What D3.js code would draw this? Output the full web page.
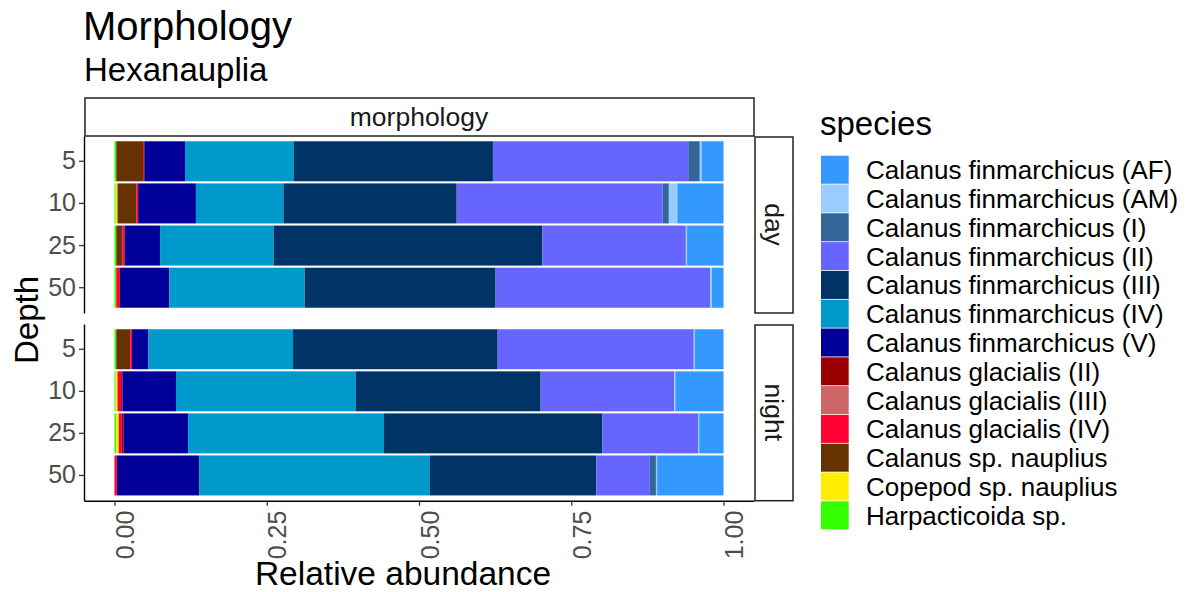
<!DOCTYPE html>
<html>
<head>
<meta charset="utf-8">
<script src="https://cdn.jsdelivr.net/npm/d3@7"></script>
<style>
  body { margin: 0; background: #fff; }
  svg text { font-family: "Liberation Sans", Arial, sans-serif; }
</style>
</head>
<body>
<svg id="chart" width="1195" height="592"></svg>
<script>

// legend order (top to bottom); bars stack in the reverse order, left to right
var species = [
  "Calanus finmarchicus (AF)",
  "Calanus finmarchicus (AM)",
  "Calanus finmarchicus (I)",
  "Calanus finmarchicus (II)",
  "Calanus finmarchicus (III)",
  "Calanus finmarchicus (IV)",
  "Calanus finmarchicus (V)",
  "Calanus glacialis (II)",
  "Calanus glacialis (III)",
  "Calanus glacialis (IV)",
  "Calanus sp. nauplius",
  "Copepod sp. nauplius",
  "Harpacticoida sp."
];

var speciesColors = [
  "#3399FF", "#99CCFF", "#336699", "#6666FF", "#003366", "#0099CC", "#000099",
  "#990000", "#CC6666", "#FF0033", "#663300", "#FFEE00", "#33FF00"
];

var depths = ["5", "10", "25", "50"];
var periods = ["day", "night"];
var xTicks = [0, 0.25, 0.5, 0.75, 1];

// relative abundance per depth, values in the same order as `species`
var dayAbundance = [
  [0.036, 0.003, 0.019, 0.321, 0.327, 0.179, 0.067, 0, 0, 0.002, 0.044, 0, 0.003],
  [0.076, 0.014, 0.010, 0.339, 0.285, 0.144, 0.095, 0, 0, 0.003, 0.031, 0.003, 0.002],
  [0.060, 0.002, 0, 0.236, 0.442, 0.187, 0.058, 0, 0, 0.004, 0.010, 0, 0.003],
  [0.019, 0.003, 0, 0.353, 0.314, 0.223, 0.081, 0, 0, 0.006, 0, 0, 0.003]
];

var nightAbundance = [
  [0.047, 0.002, 0, 0.323, 0.337, 0.238, 0.027, 0, 0, 0.003, 0.023, 0, 0.003],
  [0.079, 0.002, 0, 0.219, 0.303, 0.295, 0.088, 0.002, 0, 0.006, 0, 0.003, 0.002],
  [0.040, 0.002, 0, 0.157, 0.359, 0.322, 0.106, 0.003, 0, 0.005, 0, 0.004, 0.003],
  [0.109, 0.002, 0.010, 0.088, 0.273, 0.379, 0.135, 0, 0, 0.004, 0, 0, 0]
];

var abundance = { day: dayAbundance, night: nightAbundance };

var svg = d3.select("#chart");
var FONT_TICK = 25, FONT_STRIP = 26.5, FONT_LEGEND = 26, FONT_BASE = 33;

var panelLeft = 84, panelRight = 754;
var panels = [
  { period: "day",   top: 136, bottom: 313 },
  { period: "night", top: 324, bottom: 500.7 }
];

var x = d3.scaleLinear().domain([-0.05, 1.05]).range([panelLeft, panelRight]);
var color = d3.scaleOrdinal().domain(species).range(speciesColors);

// stack left to right: last legend entry first
var stack = d3.stack()
  .keys(species.slice().reverse())
  .offset(d3.stackOffsetExpand);

// titles
svg.append("text")
  .attr("x", 83).attr("y", 40)
  .attr("font-size", 40).attr("fill", "#000")
  .text("Morphology");

svg.append("text")
  .attr("x", 84).attr("y", 81)
  .attr("font-size", 33).attr("fill", "#000")
  .text("Hexanauplia");

// top strip
svg.append("rect")
  .attr("x", panelLeft + 1).attr("y", 98)
  .attr("width", panelRight - panelLeft - 1).attr("height", 38)
  .attr("fill", "#fff").attr("stroke", "#222").attr("stroke-width", 1.5);

svg.append("text")
  .attr("x", (panelLeft + panelRight) / 2).attr("y", 117)
  .attr("dy", "0.35em")
  .attr("text-anchor", "middle")
  .attr("font-size", FONT_STRIP).attr("fill", "#1A1A1A")
  .text("morphology");

panels.forEach(function(p) {

  var y = d3.scaleBand()
    .domain(depths)
    .range([p.top, p.bottom])
    .paddingInner(0.05)
    .paddingOuter(0.125);

  var rows = abundance[p.period].map(function(vals, i) {
    var row = { depth: depths[i] };
    species.forEach(function(s, j) { row[s] = vals[j]; });
    return row;
  });

  var g = svg.append("g").attr("class", "panel-" + p.period);

  g.selectAll("g.layer")
    .data(stack(rows))
    .join("g")
      .attr("class", "layer")
      .attr("fill", function(d) { return color(d.key); })
    .selectAll("rect")
    .data(function(d) { return d; })
    .join("rect")
      .attr("x", function(d) { return x(d[0]); })
      .attr("y", function(d) { return y(d.data.depth); })
      .attr("width", function(d) { return Math.max(0, x(d[1]) - x(d[0])); })
      .attr("height", y.bandwidth());

  // y axis
  var yAxis = svg.append("g")
    .attr("transform", "translate(" + panelLeft + ",0)")
    .call(d3.axisLeft(y).tickSize(5).tickSizeOuter(0).tickPadding(3));

  yAxis.select(".domain").attr("stroke", "#000").attr("stroke-width", 1.4);
  yAxis.selectAll(".tick line").attr("stroke", "#333").attr("stroke-width", 1.3);
  yAxis.selectAll(".tick text")
    .attr("font-size", FONT_TICK)
    .attr("font-family", "Liberation Sans, Arial, sans-serif")
    .attr("fill", "#4D4D4D");

  // right strip
  svg.append("rect")
    .attr("x", 755).attr("y", p.top + 1)
    .attr("width", 38).attr("height", p.bottom - p.top - 1)
    .attr("fill", "#fff").attr("stroke", "#222").attr("stroke-width", 1.5);

  var cy = (p.top + p.bottom) / 2;
  svg.append("text")
    .attr("transform", "translate(774," + cy + ") rotate(90)")
    .attr("dy", "0.35em")
    .attr("text-anchor", "middle")
    .attr("font-size", FONT_STRIP).attr("fill", "#1A1A1A")
    .text(p.period);

});

// x axis under the night panel
var axisY = panels[1].bottom;
var xAxis = svg.append("g")
  .attr("transform", "translate(0," + axisY + ")")
  .call(d3.axisBottom(x)
    .tickValues(xTicks)
    .tickFormat(d3.format(".2f"))
    .tickSize(5)
    .tickSizeOuter(0));

xAxis.select(".domain").attr("stroke", "#000").attr("stroke-width", 1.4);
xAxis.selectAll(".tick line").attr("stroke", "#333").attr("stroke-width", 1.3);
xAxis.selectAll(".tick text")
  .attr("font-size", FONT_TICK)
  .attr("font-family", "Liberation Sans, Arial, sans-serif")
  .attr("fill", "#4D4D4D")
  .attr("transform", "rotate(-90)")
  .attr("text-anchor", "end")
  .attr("x", -10)
  .attr("y", 19)
  .attr("dy", 0);

// axis titles
svg.append("text")
  .attr("x", 403).attr("y", 585)
  .attr("text-anchor", "middle")
  .attr("font-size", 33.5).attr("fill", "#000")
  .text("Relative abundance");

svg.append("text")
  .attr("transform", "translate(38,320) rotate(-90)")
  .attr("text-anchor", "middle")
  .attr("font-size", FONT_BASE).attr("fill", "#000")
  .text("Depth");

// legend
var legend = svg.append("g").attr("transform", "translate(821,0)");

legend.append("text")
  .attr("x", -1).attr("y", 135)
  .attr("font-size", FONT_BASE).attr("fill", "#000")
  .text("species");

var keyTop = 155.7, keyStep = 28.8;

var item = legend.selectAll("g.item")
  .data(species)
  .join("g")
    .attr("class", "item")
    .attr("transform", function(d, i) { return "translate(0," + (keyTop + i * keyStep) + ")"; });

item.append("rect")
  .attr("width", 27.7).attr("height", keyStep - 0.8)
  .attr("fill", function(d) { return color(d); });

item.append("text")
  .attr("x", 45).attr("y", keyStep / 2)
  .attr("dy", "0.35em")
  .attr("font-size", FONT_LEGEND).attr("fill", "#000")
  .text(function(d) { return d; });

</script>
</body>
</html>
